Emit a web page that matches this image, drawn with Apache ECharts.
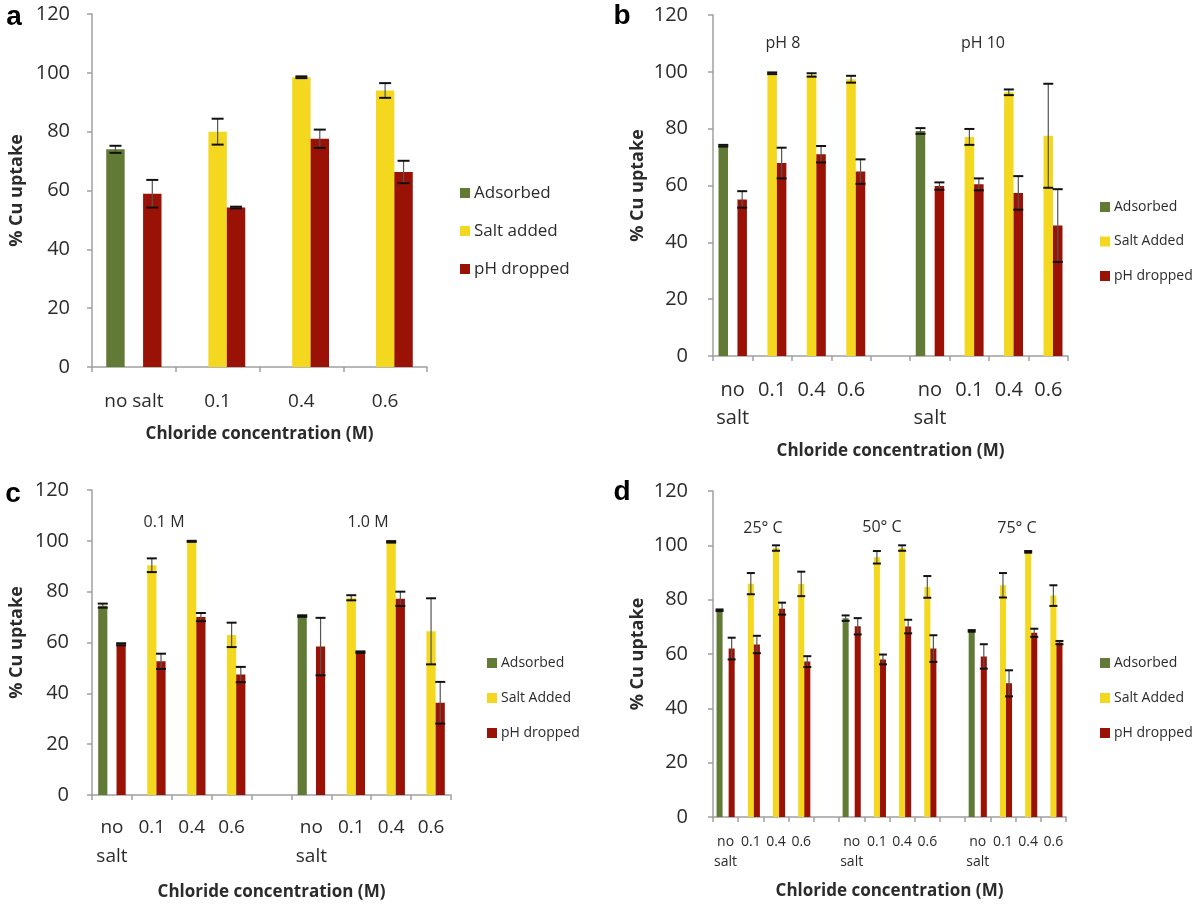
<!DOCTYPE html>
<html>
<head>
<meta charset="utf-8">
<script src="https://cdn.jsdelivr.net/npm/echarts@6/dist/echarts.min.js"></script>
<style>
  html, body { margin: 0; padding: 0; background: #fff; }
  #chart { width: 1200px; height: 905px; }
</style>
</head>
<body>
<div id="chart"></div>
<script>
// ---- data ----
const catsA = ["no salt", "0.1", "0.4", "0.6"];
const catsBC = ["no\nsalt", "0.1", "0.4", "0.6", "", "no\nsalt", "0.1", "0.4", "0.6"];
const catsD = ["no\nsalt", "0.1", "0.4", "0.6", "", "no\nsalt", "0.1", "0.4", "0.6", "", "no\nsalt", "0.1", "0.4", "0.6"];
const yTicks = [0, 20, 40, 60, 80, 100, 120];

// panel a
const adsA = [74, null, null, null];
const saltA = [null, 80, 98.5, 94];
const phA = [58.9, 54.2, 77.6, 66.3];
const adsErrA = [1.2, null, null, null];
const saltErrA = [null, 4.4, 0.3, 2.5];
const phErrA = [4.7, 0.3, 3.1, 3.8];

// panel b (pH 8 | pH 10)
const adsB = [74, null, null, null, null, 79.2, null, null, null];
const saltB = [null, 99.5, 98.9, 97.4, null, null, 77.1, 92.8, 77.5];
const phB = [55.1, 67.9, 71, 64.9, null, 59.8, 60.4, 57.4, 45.9];
const adsErrB = [0.3, null, null, null, null, 1.0, null, null, null];
const saltErrB = [null, 0.3, 0.6, 1.2, null, null, 2.8, 1.0, 18.3];
const phErrB = [2.9, 5.4, 2.9, 4.3, null, 1.3, 2.1, 5.9, 12.8];

// panel c (0.1 M | 1.0 M)
const adsC = [74.5, null, null, null, null, 70.4, null, null, null];
const saltC = [null, 90.4, 99.8, 63, null, null, 77.6, 99.6, 64.4];
const phC = [59.3, 52.6, 70, 47.4, null, 58.4, 56.2, 77.2, 36.3];
const adsErrC = [0.8, null, null, null, null, 0.3, null, null, null];
const saltErrC = [null, 2.7, 0.2, 4.8, null, null, 1.0, 0.3, 13];
const phErrC = [0.4, 3.0, 1.6, 3.0, null, 11.3, 0.3, 2.8, 8.2];

// panel d (25, 50, 75 C)
const adsD = [76.1, null, null, null, null, 73.2, null, null, null, null, 68.5, null, null, null];
const saltD = [null, 85.9, 99, 85.8, null, null, 95.6, 99, 84.7, null, null, 85.3, 97.6, 81.5];
const phD = [62, 63.5, 76.7, 57.2, null, 70.2, 58, 70.1, 62, null, 59.1, 49.2, 67.8, 64.2];
const adsErrD = [0.3, null, null, null, null, 1.0, null, null, null, null, 0.3, null, null, null];
const saltErrD = [null, 3.9, 1.0, 4.5, null, null, 2.3, 1.0, 4.0, null, null, 4.5, 0.3, 3.8];
const phErrD = [4.0, 3.2, 2.2, 2.0, null, 3.0, 1.8, 2.5, 4.9, null, 4.5, 4.8, 1.5, 0.6];

// ---- styling ----
const GREEN = "#617a35";
const YELLOW = "#f3d81f";
const RED = "#9a1206";
const AXIS = "#a0a0a0";
const TXT = "#2b2b2b";
const FONT = "Open Sans";

const panels = [
  { cats: catsA, ads: adsA, salt: saltA, ph: phA, errs: [adsErrA, saltErrA, phErrA], saltName: "Salt added",
    grid: { left: 92, top: 14, width: 335, height: 353 }, ratio: 0.22, cap: 12,
    labelSize: 19, labelLine: 22, labelMargin: 24, nameGap: 59, yMargin: 22,
    legend: { left: 460, top: 183, size: 17, line: 20, gap: 18 } },
  { cats: catsBC, ads: adsB, salt: saltB, ph: phB, errs: [adsErrB, saltErrB, phErrB], saltName: "Salt Added",
    grid: { left: 713, top: 15, width: 355, height: 341 }, ratio: 0.24, cap: 10,
    labelSize: 20, labelLine: 28, labelMargin: 20, nameGap: 87, yMargin: 25,
    legend: { left: 1100, top: 198, size: 14, line: 18, gap: 16.5 } },
  { cats: catsBC, ads: adsC, salt: saltC, ph: phC, errs: [adsErrC, saltErrC, phErrC], saltName: "Salt Added",
    grid: { left: 92, top: 490, width: 359, height: 305 }, ratio: 0.23, cap: 10,
    labelSize: 19, labelLine: 29, labelMargin: 18, nameGap: 89, yMargin: 23,
    legend: { left: 487, top: 654, size: 14, line: 18, gap: 17 } },
  { cats: catsD, ads: adsD, salt: saltD, ph: phD, errs: [adsErrD, saltErrD, phErrD], saltName: "Salt Added",
    grid: { left: 713, top: 491, width: 353, height: 326 }, ratio: 0.24, cap: 8,
    labelSize: 14, labelLine: 20, labelMargin: 15, nameGap: 66, yMargin: 25,
    legend: { left: 1100, top: 654, size: 14, line: 18, gap: 17 } }
];

function errItems(vals, errs, k) {
  const out = [];
  vals.forEach((v, j) => {
    if (v != null && errs[j] != null) out.push([j, v, errs[j], k]);
  });
  return out;
}

function errRenderer(ratio, cap) {
  return function (params, api) {
    const band = api.size([1, 0])[0];
    const bw = band * ratio;
    const cat = api.value(0), v = api.value(1), e = api.value(2), k = api.value(3);
    const x = api.coord([cat, v])[0] + (k - 1) * bw;
    const yt = api.coord([cat, v + e])[1];
    const yb = api.coord([cat, v - e])[1];
    const h = cap / 2;
    return {
      type: "group",
      children: [
        { type: "line", shape: { x1: x, y1: yt, x2: x, y2: yb }, style: { stroke: "#555", lineWidth: 1.2 } },
        { type: "line", shape: { x1: x - h, y1: yt, x2: x + h, y2: yt }, style: { stroke: "#111", lineWidth: 2 } },
        { type: "line", shape: { x1: x - h, y1: yb, x2: x + h, y2: yb }, style: { stroke: "#111", lineWidth: 2 } }
      ]
    };
  };
}

const grids = [], xAxes = [], yAxes = [], series = [], legends = [];
panels.forEach((p, i) => {
  grids.push(Object.assign({ containLabel: false }, p.grid));
  xAxes.push({
    type: "category", gridIndex: i, data: p.cats,
    name: "Chloride concentration (M)", nameLocation: "middle", nameGap: p.nameGap,
    nameTextStyle: { fontFamily: FONT, fontSize: 17, fontWeight: "bold", color: TXT },
    axisLine: { lineStyle: { color: AXIS, width: 1.5 } },
    axisTick: { show: true, length: 5, lineStyle: { color: AXIS, width: 1.5 } },
    axisLabel: { interval: 0, fontFamily: FONT, fontSize: p.labelSize, lineHeight: p.labelLine,
                 color: TXT, margin: p.labelMargin }
  });
  yAxes.push({
    type: "value", gridIndex: i, min: yTicks[0], max: yTicks[yTicks.length - 1], interval: 20,
    name: "% Cu uptake", nameLocation: "middle", nameGap: 66, nameRotate: 90,
    nameTextStyle: { fontFamily: FONT, fontSize: 18, fontWeight: "bold", color: TXT },
    axisLine: { show: true, lineStyle: { color: AXIS, width: 1.5 } },
    axisTick: { show: true, length: 5, lineStyle: { color: AXIS, width: 1.5 } },
    splitLine: { show: false },
    axisLabel: { fontFamily: FONT, fontSize: 20, color: TXT, margin: p.yMargin }
  });
  const bw = Math.round(p.ratio * 100) + "%";
  const names = ["Adsorbed", p.saltName, "pH dropped"];
  [[p.ads, GREEN], [p.salt, YELLOW], [p.ph, RED]].forEach((s, k) => {
    series.push({
      type: "bar", name: names[k], xAxisIndex: i, yAxisIndex: i, data: s[0],
      barWidth: bw, barGap: "0%", itemStyle: { color: s[1] }
    });
  });
  const items = []
    .concat(errItems(p.ads, p.errs[0], 0))
    .concat(errItems(p.salt, p.errs[1], 1))
    .concat(errItems(p.ph, p.errs[2], 2));
  series.push({
    type: "custom", xAxisIndex: i, yAxisIndex: i, data: items, z: 5, silent: true,
    encode: { x: 0, y: 1 }, renderItem: errRenderer(p.ratio, p.cap)
  });
  legends.push({
    orient: "vertical", left: p.legend.left, top: p.legend.top, padding: 0, data: names,
    icon: "rect", itemWidth: 10, itemHeight: 10, itemGap: p.legend.gap, selectedMode: false,
    textStyle: { fontFamily: FONT, fontSize: p.legend.size, lineHeight: p.legend.line, color: TXT, padding: [0, 0, 0, -1] }
  });
});

function label(text, x, y, size, bold, family) {
  return {
    type: "text", x: x, y: y,
    style: { text: text, fontSize: size, fontWeight: bold ? "bold" : "normal", fontFamily: family || FONT,
             fill: bold ? "#000" : TXT, align: "center", verticalAlign: "middle" }
  };
}

const chart = echarts.init(document.getElementById("chart"));
chart.setOption({
  animation: false,
  backgroundColor: "#fff",
  grid: grids,
  xAxis: xAxes,
  yAxis: yAxes,
  legend: legends,
  series: series,
  graphic: [
    label("a", 14, 17, 28, true, "Liberation Sans"),
    label("b", 622, 16, 28, true, "Liberation Sans"),
    label("c", 13, 494, 28, true, "Liberation Sans"),
    label("d", 622, 492, 28, true, "Liberation Sans"),
    label("pH 8", 783, 43, 16),
    label("pH 10", 983, 43, 16),
    label("0.1 M", 164, 522, 16),
    label("1.0 M", 368, 522, 16),
    label("25\u00b0 C", 763, 528, 16),
    label("50\u00b0 C", 882, 527, 16),
    label("75\u00b0 C", 1017, 528, 16)
  ]
});
</script>
</body>
</html>
